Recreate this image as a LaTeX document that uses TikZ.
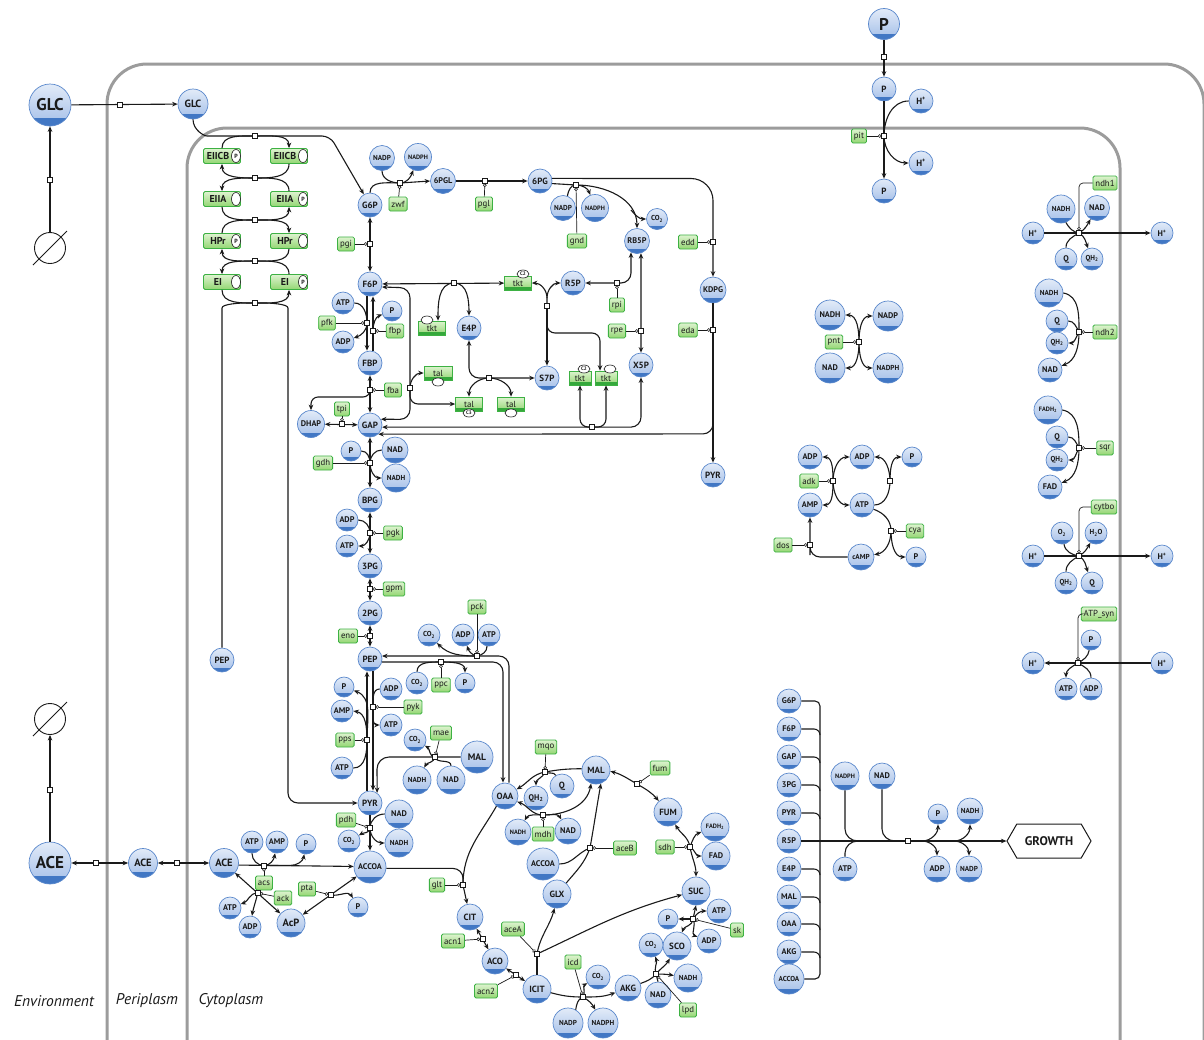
\documentclass[tikz,border=0pt]{standalone}
\usepackage{fontspec}
\setmainfont{PT Sans}
\usetikzlibrary{arrows.meta,shapes.geometric,shapes.symbols,calc}
\definecolor{metA}{HTML}{E2EBF8}
\definecolor{metB}{HTML}{A3BEE8}
\definecolor{metD}{HTML}{5A88CC}
\definecolor{metBand}{HTML}{4177C4}
\definecolor{enzA}{HTML}{DDF3CF}
\definecolor{enzB}{HTML}{93D672}
\definecolor{enzD}{HTML}{3DB143}
\definecolor{enzBand}{HTML}{35A83B}
\definecolor{compG}{HTML}{9C9C9C}
\definecolor{ink}{HTML}{1A1A1A}
\tikzset{
  met/.style={circle, draw=metD, line width=0.7pt, inner sep=0pt, minimum size=#1,
    top color=metA, bottom color=metB, text=ink,
    font=\fontsize{9}{9}\selectfont\bfseries,
    path picture={\fill[metBand] (path picture bounding box.south west) rectangle
      ($(path picture bounding box.south east)!0.18!(path picture bounding box.north east)$);}},
  met/.default=24pt,
  t9/.style={font=\fontsize{10.5}{10.5}\selectfont\bfseries},
  t8/.style={font=\fontsize{9.5}{9.5}\selectfont\bfseries},
  t7/.style={font=\fontsize{8.2}{8.2}\selectfont\bfseries},
  t6/.style={font=\fontsize{7.2}{7.2}\selectfont\bfseries},
  t5/.style={font=\fontsize{6.3}{6.3}\selectfont\bfseries},
  big/.style={font=\fontsize{17}{17}\selectfont\bfseries},
  enz/.style={rectangle, rounded corners=1.5pt, draw=enzD, line width=0.8pt,
    top color=enzA, bottom color=enzB, inner xsep=2.5pt, inner ysep=0pt,
    minimum height=14pt, text=ink, font=\fontsize{8.8}{8.8}\selectfont},
  tkb/.style={rectangle, draw=enzD, line width=0.6pt, top color=enzA, bottom color=enzB,
    minimum width=#1, minimum height=14pt, inner sep=0pt, text=ink,
    font=\fontsize{8.8}{8.8}\selectfont,
    path picture={\fill[enzBand] (path picture bounding box.south west) rectangle
      ($(path picture bounding box.south east)!0.24!(path picture bounding box.north east)$);}},
  tkb/.default=26pt,
  ptsb/.style={rectangle, rounded corners=1.5pt, draw=enzD, line width=0.8pt,
    top color=enzA, bottom color=enzB, minimum width=37pt, minimum height=15pt, inner sep=0pt},
  ovl/.style={ellipse, draw=ink, line width=0.6pt, fill=white, inner sep=0pt,
    minimum width=#1, minimum height=8pt, font=\fontsize{5}{5}\selectfont\bfseries, text=ink},
  ovl/.default=12pt,
  rx/.style={draw=ink, line width=1.1pt},
  ar/.style={-{Stealth[length=5.5pt,width=4.6pt]}},
  br/.style={{Stealth[length=5.5pt,width=4.6pt]}-{Stealth[length=5.5pt,width=4.6pt]}},
  cat/.style={draw=ink, line width=0.7pt, -{Circle[length=3.6pt,width=3.6pt,fill=white,line width=0.6pt]}, shorten >=2.4pt},
  sq/.style={rectangle, draw=ink, fill=white, minimum size=5pt, inner sep=0pt, line width=0.6pt},
  comp/.style={draw=compG, line width=3pt, rounded corners=40pt},
  lab/.style={font=\fontsize{15.5}{15.5}\selectfont\itshape, text=ink},
}
\newcommand\ptsbox[5]{%
  \node[ptsb] (#1) at (#2,#3) {};
  \node[font=\fontsize{10}{10}\selectfont\bfseries, text=ink] (#1t) at ([xshift=-4pt]#1.center) {#4};
  \node[ovl=9pt, minimum height=13pt, font=\fontsize{6}{6}\selectfont\bfseries] (#1o) at ([xshift=14pt]#1.center) {#5};}
\begin{document}
\begin{tikzpicture}[x=1pt,y=-1pt]
\useasboundingbox (0,0) rectangle (1204,1039);
\fill[white] (0,0) rectangle (1204,1039);
% ---------------- compartments
\draw[comp] (107,1075) -- (107,64) -- (1204,64) -- (1204,1075);
\draw[comp] (187,1075) -- (187,128) -- (1120,128) -- (1120,1075);
\node[lab] (labE) at (54,1001) {Environment};
\node[lab] (labP) at (147,1001) {Periplasm};
\node[lab] (labC) at (231,1001) {Cytoplasm};

% ---------------- null sets
\node[circle, draw=ink, line width=0.9pt, minimum size=31pt, inner sep=0pt] (nullG) at (50,248) {};
\draw[line width=0.9pt, ink] ($(nullG)+(-17,17)$) -- ($(nullG)+(17,-17)$);
\node[circle, draw=ink, line width=0.9pt, minimum size=31pt, inner sep=0pt] (nullA) at (50,719) {};
\draw[line width=0.9pt, ink] ($(nullA)+(-17,17)$) -- ($(nullA)+(17,-17)$);

% ---------------- metabolites: transport
\node[met=42pt,big] (GLCe) at (50,105) {GLC};
\node[met=30pt,t9] (GLCp) at (193,104) {GLC};
\node[met=42pt,big] (ACEe) at (50,863) {ACE};
\node[met=29pt,t9] (ACEp) at (143,863) {ACE};
\node[met=29pt,t9] (ACEc) at (224,863) {ACE};
\node[met=31pt,big] (Pe) at (884,24) {P};
\node[met=24pt] (Pp) at (884,89) {P};
\node[met=24pt] (Hp1) at (921,101) {H\textsuperscript{+}};
\node[met=24pt] (Hc1) at (921,163) {H\textsuperscript{+}};
\node[met=24pt] (Pc) at (884,191) {P};

% ---------------- PTS
\ptsbox{EIICBl}{222}{156}{EIICB}{P}
\ptsbox{EIICBr}{289}{156}{EIICB}{}
\ptsbox{EIIAl}{222}{199}{EIIA}{}
\ptsbox{EIIAr}{289}{199}{EIIA}{P}
\ptsbox{HPrl}{222}{241}{HPr}{P}
\ptsbox{HPrr}{289}{241}{HPr}{}
\ptsbox{EIl}{222}{282}{EI}{}
\ptsbox{EIr}{289}{282}{EI}{P}

% ---------------- glycolysis
\node[met] (G6P) at (370,205) {G6P};
\node[met] (F6P) at (370,284) {F6P};
\node[met] (FBP) at (370,363) {FBP};
\node[met] (GAP) at (370,425) {GAP};
\node[met=27pt,t7] (DHAP) at (311,424) {DHAP};
\node[met] (BPG) at (370,500) {BPG};
\node[met] (P3G) at (370,566) {3PG};
\node[met] (P2G) at (370,613) {2PG};
\node[met] (PEP) at (370,659) {PEP};
\node[met] (PEPb) at (222,660) {PEP};
\node[met] (PYR) at (370,803) {PYR};
\node[met=32pt,t7] (ACCOA) at (370,867) {ACCOA};

% ---------------- PPP
\node[met=25pt,t6] (NADPa) at (382,158) {NADP};
\node[met=27pt,t5] (NADPHa) at (418,157) {NADPH};
\node[met=25pt,t7] (PGL) at (443,181) {6PGL};
\node[met] (PG6) at (540,181) {6PG};
\node[met=25pt,t6] (NADPb) at (563,208) {NADP};
\node[met=27pt,t5] (NADPHb) at (595,208) {NADPH};
\node[met=21pt,t6] (CO2a) at (657,219) {CO\textsubscript{2}};
\node[met=25pt,t7] (RB5P) at (637,241) {RB5P};
\node[met=26pt,t7] (KDPG) at (713,290) {KDPG};
\node[met] (R5P) at (573,283) {R5P};
\node[met] (E4P) at (469,328) {E4P};
\node[met] (S7P) at (547,378) {S7P};
\node[met] (X5P) at (641,365) {X5P};
\node[met] (PYRb) at (713,475) {PYR};

\node[met=22pt,t7] (ATPa) at (343,303) {ATP};
\node[met=22pt,t7] (ADPa) at (343,342) {ADP};
\node[met=20pt,t7] (Pa) at (392,311) {P};
\node[met=20pt,t7] (Pb) at (351,451) {P};
\node[met=26pt,t7] (NADa) at (395,450) {NAD};
\node[met=28pt,t6] (NADHa) at (396,478) {NADH};
\node[met=22pt,t7] (ADPb) at (347,520) {ADP};
\node[met=22pt,t7] (ATPb) at (347,546) {ATP};

\node[met=22pt,t6] (CO2b) at (429,635) {CO\textsubscript{2}};
\node[met=22pt,t7] (ADPc) at (463,635) {ADP};
\node[met=22pt,t7] (ATPc) at (489,635) {ATP};
\node[met=22pt,t6] (CO2c) at (417,683) {CO\textsubscript{2}};
\node[met=20pt,t7] (Pc2) at (465,683) {P};
\node[met=20pt,t7] (Pd) at (344,687) {P};
\node[met=22pt,t7] (ADPd) at (391,689) {ADP};
\node[met=22pt,t7] (AMPa) at (342,711) {AMP};
\node[met=22pt,t7] (ATPd) at (391,725) {ATP};
\node[met=22pt,t7] (ATPe) at (342,768) {ATP};
\node[met=22pt,t6] (CO2d) at (415,740) {CO\textsubscript{2}};
\node[met=28pt,t6] (NADHb) at (417,780) {NADH};
\node[met=28pt,t7] (NADb) at (451,780) {NAD};
\node[met=32pt,t8] (MALa) at (477,757) {MAL};
\node[met=28pt,t7] (NADc) at (399,814) {NAD};
\node[met=22pt,t6] (CO2e) at (349,841) {CO\textsubscript{2}};
\node[met=28pt,t6] (NADHc) at (399,843) {NADH};

% ---------------- acetate
\node[met=22pt,t7] (ATPf) at (252,842) {ATP};
\node[met=22pt,t7] (AMPb) at (277,842) {AMP};
\node[met=20pt,t7] (Pe2) at (306,844) {P};
\node[met=22pt,t7] (ATPg) at (230,908) {ATP};
\node[met=22pt,t7] (ADPe) at (250,927) {ADP};
\node[met=28pt,t9] (AcP) at (291,923) {AcP};
\node[met=20pt,t7] (Pf) at (358,907) {P};

% ---------------- TCA
\node[met=26pt] (OAA) at (505,796) {OAA};
\node[met=26pt] (CIT) at (470,917) {CIT};
\node[met=26pt] (ACO) at (495,961) {ACO};
\node[met=28pt] (ICIT) at (537,989) {ICIT};
\node[met=26pt] (AKG) at (628,988) {AKG};
\node[met=28pt] (SCO) at (677,946) {SCO};
\node[met=28pt] (SUC) at (696,891) {SUC};
\node[met=28pt] (FUM) at (668,812) {FUM};
\node[met=28pt] (MALb) at (596,770) {MAL};
\node[met=28pt] (GLX) at (557,894) {GLX};
\node[met=32pt,t7] (ACCOAb) at (543,864) {ACCOA};
\node[met=24pt,t7] (QH2a) at (536,798) {QH\textsubscript{2}};
\node[met=24pt] (Qa) at (562,786) {Q};
\node[met=26pt,t5] (NADHd) at (518,832) {NADH};
\node[met=26pt,t7] (NADd) at (568,831) {NAD};
\node[met=30pt,t6] (NADPc) at (568,1023) {NADP};
\node[met=30pt,t6] (NADPHc) at (603,1023) {NADPH};
\node[met=24pt,t6] (CO2f) at (598,977) {CO\textsubscript{2}};
\node[met=26pt,t7] (NADe) at (658,995) {NAD};
\node[met=28pt,t6] (NADHe) at (688,978) {NADH};
\node[met=24pt,t6] (CO2g) at (651,945) {CO\textsubscript{2}};
\node[met=20pt,t7] (Pg) at (668,919) {P};
\node[met=24pt,t7] (ATPh) at (719,911) {ATP};
\node[met=24pt,t7] (ADPf) at (709,941) {ADP};
\node[met=28pt,t5] (FADH2) at (715,827) {FADH\textsubscript{2}};
\node[met=28pt,t7] (FAD) at (716,856) {FAD};

% ---------------- respiration
\node[met=28pt,t6] (NADHf) at (1061,209) {NADH};
\node[met=25pt,t7] (NADf) at (1097,208) {NAD};
\node[met=22pt,t7] (Hl1) at (1033,233) {H\textsuperscript{+}};
\node[met=22pt,t7] (Hr1) at (1162,233) {H\textsuperscript{+}};
\node[met=22pt,t7] (Qb) at (1066,259) {Q};
\node[met=22pt,t6] (QH2b) at (1092,259) {QH\textsubscript{2}};
\node[met=28pt,t6] (NADHg) at (1049,293) {NADH};
\node[met=22pt,t7] (Qc) at (1057,321) {Q};
\node[met=22pt,t6] (QH2c) at (1057,343) {QH\textsubscript{2}};
\node[met=24pt,t7] (NADg) at (1050,370) {NAD};
\node[met=28pt,t5] (FADH2b) at (1048,410) {FADH\textsubscript{2}};
\node[met=22pt,t7] (Qd) at (1057,437) {Q};
\node[met=22pt,t6] (QH2d) at (1057,460) {QH\textsubscript{2}};
\node[met=24pt,t7] (FADb) at (1050,487) {FAD};
\node[met=22pt,t6] (O2) at (1062,533) {O\textsubscript{2}};
\node[met=22pt,t6] (H2O) at (1096,533) {H\textsubscript{2}O};
\node[met=22pt,t7] (Hl2) at (1033,556) {H\textsuperscript{+}};
\node[met=22pt,t7] (Hr2) at (1162,556) {H\textsuperscript{+}};
\node[met=22pt,t6] (QH2e) at (1066,583) {QH\textsubscript{2}};
\node[met=22pt,t7] (Qe) at (1092,583) {Q};
\node[met=20pt,t7] (Pj) at (1091,640) {P};
\node[met=22pt,t7] (Hl3) at (1033,663) {H\textsuperscript{+}};
\node[met=22pt,t7] (Hr3) at (1162,663) {H\textsuperscript{+}};
\node[met=22pt,t7] (ATPj) at (1066,689) {ATP};
\node[met=22pt,t7] (ADPj) at (1091,689) {ADP};

% ---------------- pnt, adk
\node[met=30pt,t7] (NADHh) at (830,315) {NADH};
\node[met=30pt,t7] (NADPh) at (888,316) {NADP};
\node[met=30pt,t7] (NADh) at (830,368) {NAD};
\node[met=30pt,t6] (NADPHh) at (888,368) {NADPH};
\node[met=24pt,t7] (ADPk) at (810,457) {ADP};
\node[met=24pt,t7] (ADPm) at (862,457) {ADP};
\node[met=20pt,t7] (Pk) at (912,457) {P};
\node[met=24pt,t7] (AMPk) at (810,505) {AMP};
\node[met=24pt,t7] (ATPk) at (862,505) {ATP};
\node[met=26pt,t6] (cAMP) at (861,557) {cAMP};
\node[met=20pt,t7] (Pm) at (916,557) {P};

% ---------------- growth
\foreach \n/\l/\y in {gG6P/G6P/701, gF6P/F6P/729, gGAP/GAP/757, g3PG/3PG/785, gPYR/PYR/813, gR5P/R5P/841, gE4P/E4P/869, gMAL/MAL/897, gOAA/OAA/924, gAKG/AKG/952}
  \node[met=24pt,t7] (\n) at (789,\y) {\l};
\node[met=30pt,t6] (gACCOA) at (789,979) {ACCOA};
\node[met=28pt,t5] (NADPHg) at (845,776) {NADPH};
\node[met=26pt,t7] (NADgr) at (882,776) {NAD};
\node[met=24pt,t7] (ATPgr) at (845,869) {ATP};
\node[met=20pt,t7] (Pgr) at (938,814) {P};
\node[met=26pt,t7] (ADPgr) at (937,869) {ADP};
\node[met=26pt,t6] (NADHgr) at (970,811) {NADH};
\node[met=26pt,t6] (NADPgr) at (969,869) {NADP};
\node[draw=ink, line width=1pt, fill=white, signal, signal to=west and east, signal pointer angle=120,
  minimum width=84pt, minimum height=34pt, inner sep=0pt, text=ink,
  font=\fontsize{12.5}{12.5}\selectfont\bfseries] (GROWTH) at (1049,841) {GROWTH};

% ---------------- tkt / tal boxes
\node[tkb=27pt] (tktA) at (518,283) {tkt};
\node[ovl] (oA) at (523,274) {C2};
\node[tkb=27pt] (tktB) at (432,328) {tkt};
\node[ovl] (oB) at (427,320) {};
\node[tkb=28pt] (talA) at (438,373) {tal};
\node[ovl] (oC) at (438,382) {};
\node[tkb=27pt] (talB) at (469,404) {tal};
\node[ovl] (oD) at (469,413) {C3};
\node[tkb=27pt] (talC) at (511,404) {tal};
\node[ovl] (oE) at (511,413) {};
\node[tkb=22pt] (tktD) at (580,378) {tkt};
\node[ovl] (oF) at (584,369) {C2};
\node[tkb=22pt] (tktE) at (606,378) {tkt};
\node[ovl] (oG) at (610,369) {};

% ---------------- enzymes
\node[enz] (pgi) at (346,244) {pgi};
\node[enz] (zwf) at (398,204) {zwf};
\node[enz] (pgl) at (484,204) {pgl};
\node[enz] (gnd) at (577,241) {gnd};
\node[enz] (edd) at (688,242) {edd};
\node[enz] (eda) at (688,330) {eda};
\node[enz] (rpi) at (617,305) {rpi};
\node[enz] (rpe) at (617,331) {rpe};
\node[enz] (pfk) at (327,323) {pfk};
\node[enz] (fbp) at (395,331) {fbp};
\node[enz] (fba) at (393,390) {fba};
\node[enz] (tpi) at (342,409) {tpi};
\node[enz] (gdh) at (323,463) {gdh};
\node[enz] (pgk) at (393,533) {pgk};
\node[enz] (gpm) at (394,589) {gpm};
\node[enz] (eno) at (348,636) {eno};
\node[enz] (pck) at (477,607) {pck};
\node[enz] (ppc) at (441,685) {ppc};
\node[enz] (pyk) at (413,707) {pyk};
\node[enz] (pps) at (345,740) {pps};
\node[enz] (mae) at (441,733) {mae};
\node[enz] (pdh) at (346,820) {pdh};
\node[enz] (glt) at (437,885) {glt};
\node[enz] (acs) at (264,883) {acs};
\node[enz] (ack) at (283,898) {ack};
\node[enz] (pta) at (307,889) {pta};
\node[enz] (acnA) at (453,941) {acn1};
\node[enz] (acnB) at (486,991) {acn2};
\node[enz] (aceA) at (513,929) {aceA};
\node[enz] (icd) at (573,962) {icd};
\node[enz] (lpd) at (688,1010) {lpd};
\node[enz] (sk) at (737,930) {sk};
\node[enz] (sdh) at (665,847) {sdh};
\node[enz] (aceB) at (625,848) {aceB};
\node[enz] (fum) at (660,768) {fum};
\node[enz] (mqo) at (546,747) {mqo};
\node[enz] (mdh) at (543,834) {mdh};
\node[enz] (pit) at (859,136) {pit};
\node[enz] (ndhA) at (1105,183) {ndh1};
\node[enz] (ndhB) at (1105,332) {ndh2};
\node[enz] (sqr) at (1105,448) {sqr};
\node[enz] (cytbo) at (1104,507) {cytbo};
\node[enz] (atpsyn) at (1099,614) {ATP\_syn};
\node[enz] (pnt) at (834,342) {pnt};
\node[enz] (adk) at (809,481) {adk};
\node[enz] (cya) at (915,531) {cya};
\node[enz] (dos) at (783,545) {dos};

% ---------------- reaction centres
\coordinate (s1) at (120,105);   \coordinate (s2) at (50,180);
\coordinate (sP1) at (255,136);  \coordinate (sP2) at (255,178);
\coordinate (sP3) at (255,220);  \coordinate (sP4) at (255,261);
\coordinate (sP5) at (255,303);
\coordinate (sPGI) at (370,244); \coordinate (sZWF) at (400,183);
\coordinate (sPGL) at (485,181); \coordinate (sGND) at (576,185);
\coordinate (sEDD) at (713,242); \coordinate (sEDA) at (713,330);
\coordinate (sRPI) at (617,283); \coordinate (sRPE) at (641,331);
\coordinate (sTK1) at (454,283); \coordinate (sTK2) at (547,306);
\coordinate (jTK2) at (547,298); \coordinate (sTK3) at (592,427);
\coordinate (sTAL1) at (410,388); \coordinate (sTAL2) at (489,378);
\coordinate (sPFK) at (367,323); \coordinate (sFBP) at (373,331);
\coordinate (sFBA) at (370,390); \coordinate (sTPI) at (342,424);
\coordinate (sGDH) at (370,463); \coordinate (sPGK) at (370,533);
\coordinate (sGPM) at (370,589); \coordinate (sENO) at (370,636);
\coordinate (sPCK) at (477,656); \coordinate (sPPC) at (441,662);
\coordinate (sPYK) at (373,707); \coordinate (sPPS) at (367,740);
\coordinate (sMAE) at (435,757); \coordinate (sPDH) at (370,828);
\coordinate (sGLT) at (463,885);
\coordinate (sACN1) at ($(CIT)!0.5!(ACO)$);
\coordinate (sACN2) at ($(ACO)!0.5!(ICIT)$);
\coordinate (sICD) at (583,997); \coordinate (sACEA) at (537,954);
\coordinate (sLPD) at (656,974); \coordinate (sSK) at (693,919);
\coordinate (sSDH) at (690,847); \coordinate (sFUM) at (637,784);
\coordinate (sMQO) at (545,772); \coordinate (sMDH) at (543,815);
\coordinate (sACEB) at (590,848);
\coordinate (sACEx) at (50,790); \coordinate (sACE1) at (96,863);
\coordinate (sACE2) at (177,863); \coordinate (sACS) at (264,865.5);
\coordinate (sACK) at ($(ACEc)!0.5!(AcP)$);
\coordinate (sPTA) at ($(AcP)!0.5!(ACCOA)$);
\coordinate (sPt) at (884,57);   \coordinate (sPIT) at (884,136);
\coordinate (sNDH1) at (1079,233); \coordinate (sNDH2) at (1079,332);
\coordinate (sSQR) at (1079,448);  \coordinate (sCYT) at (1079,556);
\coordinate (sATS) at (1078,663);
\coordinate (sPNT) at (859,342); \coordinate (sADK) at (833,481);
\coordinate (sATPx) at (890,481); \coordinate (sCYA) at (891,531);
\coordinate (sDOS) at (810,545);
\coordinate (sGR) at (908,841);
\coordinate (jCO2) at (631,210);
\coordinate (jEDA) at (713,418);
\coordinate (jG1) at (922,841); \coordinate (jG2) at (954,841);
\coordinate (jG3) at (858,841); \coordinate (jG4) at (895,841);

% ---------------- transport
\draw[rx,ar] (GLCe) -- (GLCp);
\draw[rx,ar] (nullG) -- (GLCe);
\draw[rx,ar] (ACEe) -- (nullA);
\draw[rx,br] (ACEe) -- (ACEp);
\draw[rx,br] (ACEp) -- (ACEc);
\draw[rx,ar] (Pe) -- (Pp);
\draw[rx,ar] (Pp) -- (Pc);
\draw[rx] (Hp1.west) to[out=180,in=90] (sPIT);
\draw[rx,ar] (sPIT) to[out=-90,in=180] (Hc1.west);
\draw[cat] (pit) -- (sPIT);

% ---------------- PTS
\draw[rx,ar] (EIICBl.north) to[out=90,in=180] (sP1) to[out=0,in=90] (EIICBr.north);
\draw[rx,ar,rounded corners=8pt] (GLCp.south) to[out=-90,in=180] (215,136) -- (330,136) -- (G6P);
\draw[rx,ar] (EIICBr.south) to[out=-90,in=0] (sP2) to[out=180,in=-90] (EIICBl.south);
\draw[rx,ar] (EIIAr.north) to[out=90,in=0] (sP2) to[out=180,in=90] (EIIAl.north);
\draw[rx,ar] (EIIAl.south) to[out=-90,in=180] (sP3) to[out=0,in=-90] (EIIAr.south);
\draw[rx,ar] (HPrl.north) to[out=90,in=180] (sP3) to[out=0,in=90] (HPrr.north);
\draw[rx,ar] (HPrr.south) to[out=-90,in=0] (sP4) to[out=180,in=-90] (HPrl.south);
\draw[rx,ar] (EIr.north) to[out=90,in=0] (sP4) to[out=180,in=90] (EIl.north);
\draw[rx,ar] (EIl.south) to[out=-90,in=180] (sP5) to[out=0,in=-90] (EIr.south);
\draw[rx,ar,rounded corners=10pt] (PEPb.north) -- (222,318) to[out=90,in=180] (sP5) to[out=0,in=90] (288,318) -- (288,803) -- (PYR.west);

% ---------------- upper glycolysis
\draw[rx,br] (G6P) -- (F6P);
\draw[cat] (pgi) -- (sPGI);
\draw[rx,ar] ([xshift=-3pt]F6P.south) -- ([xshift=-3pt]FBP.north);
\draw[rx,ar] ([xshift=3pt]FBP.north) -- ([xshift=3pt]F6P.south);
\draw[rx] (ATPa.east) to[out=0,in=90] (sPFK);
\draw[rx,ar] (sPFK) to[out=-90,in=20] (ADPa.20);
\draw[rx,ar] (sFBP) to[out=90,in=200] (Pa.200);
\draw[cat] (pfk) -- (sPFK);
\draw[cat] (fbp) -- (sFBP);
\draw[rx,br] (FBP) -- (GAP);
\draw[rx,ar,rounded corners=7pt] (sFBA) |- (311,397) -- (DHAP.north);
\draw[cat] (fba) -- (sFBA);
\draw[rx,br] (DHAP) -- (GAP);
\draw[cat] (tpi) -- (sTPI);
\draw[rx,br] (GAP) -- (BPG);
\draw[rx] (Pb.east) to[out=0,in=90] (sGDH);
\draw[rx] (NADa.west) to[out=180,in=90] (sGDH);
\draw[rx,ar] (sGDH) to[out=-90,in=180] (NADHa.west);
\draw[cat] (gdh) -- (sGDH);
\draw[rx,br] (BPG) -- (P3G);
\draw[rx] (ADPb.east) to[out=0,in=90] (sPGK);
\draw[rx,ar] (sPGK) to[out=-90,in=0] (ATPb.east);
\draw[cat] (pgk) -- (sPGK);
\draw[rx,br] (P3G) -- (P2G);
\draw[cat] (gpm) -- (sGPM);
\draw[rx,br] (P2G) -- (PEP);
\draw[cat] (eno) -- (sENO);

% ---------------- oxidative PPP / ED
\draw[rx,ar] (G6P.north) to[out=90,in=180] (sZWF) -- (PGL.west);
\draw[rx] (NADPa.south) to[out=-90,in=180] (sZWF);
\draw[rx,ar] (sZWF) to[out=0,in=-110] (NADPHa.-110);
\draw[cat] (zwf) -- (sZWF);
\draw[rx,ar] (PGL) -- (PG6);
\draw[cat] (pgl) -- (sPGL);
\draw[rx,ar] (PG6.-12) -- (sGND) to[out=0,in=90] (RB5P.north);
\draw[rx,ar] (jCO2) to[out=-50,in=180] (CO2a.west);
\draw[rx] (NADPb.70) to[out=80,in=180] (sGND);
\draw[rx,ar] (sGND) to[out=0,in=110] (NADPHb.110);
\draw[cat] (gnd) -- (sGND);
\draw[rx,ar,rounded corners=22pt] (PG6.12) -- (713,178.5) -- (KDPG.north);
\draw[cat] (edd) -- (sEDD);
\draw[rx,ar] (KDPG.south) -- (PYRb.north);
\draw[rx,ar,rounded corners=10pt] (jEDA) -- (713,433.9) -- (GAP.-48);
\draw[cat] (eda) -- (sEDA);

% ---------------- non-oxidative PPP
\draw[rx,br,rounded corners=10pt] (RB5P.-118) -- (631,283) -- (R5P.east);
\draw[cat] (rpi) -- (sRPI);
\draw[rx,br] (RB5P.-72) -- (X5P.north);
\draw[cat] (rpe) -- (sRPE);
\draw[rx,br] (F6P) -- (tktA);
\draw[rx,ar] (sTK1) to[out=180,in=90] ([xshift=6pt]tktB.north);
\draw[rx,ar] (sTK1) to[out=0,in=90] (E4P.north);
\draw[rx,ar] (sTK2) -- (jTK2) to[out=90,in=0] (tktA.east);
\draw[rx,ar] (jTK2) to[out=90,in=180] (R5P.west);
\draw[rx,ar] (sTK2) -- (S7P.north);
\draw[rx,ar,rounded corners=8pt] (sTK2) -- (547,333) -- (600,333) -- ([xshift=-6pt]tktE.north);
\draw[rx,br,rounded corners=10pt] (E4P.south) -- (469,378) -- (S7P.west);
\draw[rx,ar] (sTAL2) to[out=180,in=90] (talB.north);
\draw[rx,ar] (sTAL2) to[out=0,in=90] (talC.north);
\draw[rx,br,rounded corners=10pt] (F6P.-14) -- (410,287.9) -- (410,419.4) -- (GAP.28);
\draw[rx,ar] (sTAL1) to[out=90,in=180] (talA.west);
\draw[rx,ar,rounded corners=8pt] (sTAL1) -- (410,404) -- (talB.west);
\draw[rx,br,rounded corners=10pt] (GAP.-10) -- (641,427.1) -- (X5P.south);
\draw[rx,ar,rounded corners=8pt] (sTK3) -- (580,427) -- (tktD.south);
\draw[rx,ar,rounded corners=8pt] (sTK3) -- (606,427) -- (tktE.south);

% ---------------- PEP / PYR node
\draw[rx,ar,rounded corners=10pt] ([xshift=4pt]OAA.north) -- (509,656) -- (PEP.14);
\draw[rx,ar] (sPCK) to[out=180,in=-45] (CO2b.-45);
\draw[rx,ar] (sPCK) to[out=170,in=-70] (ADPc.-70);
\draw[rx] (ATPc.-100) to[out=-90,in=10] (sPCK);
\draw[cat] (pck) -- (sPCK);
\draw[rx,ar,rounded corners=10pt] (PEP.-14) -- (503,662) -- ([xshift=-2pt]OAA.north);
\draw[rx] (CO2c.north) to[out=90,in=180] (sPPC);
\draw[rx,ar] (sPPC) to[out=0,in=90] (Pc2.north);
\draw[cat] (ppc) -- (sPPC);
\draw[rx,ar] ([xshift=3pt]PEP.south) -- ([xshift=3pt]PYR.north);
\draw[rx,ar] ([xshift=-3pt]PYR.north) -- ([xshift=-3pt]PEP.south);
\draw[rx] (ADPd.west) to[out=180,in=90] (sPYK);
\draw[rx,ar] (sPYK) to[out=-90,in=180] (ATPd.west);
\draw[cat] (pyk) -- (sPYK);
\draw[rx] (ATPe.east) to[out=0,in=-90] (sPPS);
\draw[rx,ar] (sPPS) to[out=90,in=-20] (Pd.-20);
\draw[rx,ar] (sPPS) to[out=90,in=-10] (AMPa.east);
\draw[cat] (pps) -- (sPPS);
\draw[rx,ar,rounded corners=12pt] (MALa.west) -- (377,757) -- (PYR.55);
\draw[rx,ar] (sMAE) to[out=180,in=-30] (CO2d.-30);
\draw[rx,ar] (sMAE) to[out=-100,in=60] (NADHb.60);
\draw[rx] (NADb.north) to[out=90,in=-80] (sMAE);
\draw[cat] (mae) -- (sMAE);
\draw[rx,ar] (PYR) -- (ACCOA);
\draw[rx] (NADc.west) to[out=180,in=90] (sPDH);
\draw[rx,ar] (sPDH) to[out=-90,in=30] (CO2e.30);
\draw[rx,ar] (sPDH) to[out=-90,in=180] (NADHc.west);
\draw[cat] (pdh) -- (sPDH);

% ---------------- acetate
\draw[rx,ar] (ACEc.-8) -- (ACCOA.178);
\draw[rx] (ATPf.south) to[out=-90,in=180] (sACS);
\draw[rx,ar] (sACS) to[out=0,in=-100] (AMPb.-100);
\draw[rx,ar] (sACS) -- (290,865.5) to[out=0,in=-100] (Pe2.-100);
\draw[cat] (acs) -- (sACS);
\draw[rx,br] (ACEc) -- (AcP);
\draw[rx,ar] (sACK) to[out=180,in=20] (ATPg.20);
\draw[rx,ar] (sACK) to[out=-100,in=80] (ADPe.80);
\draw[cat] (ack) -- (sACK);
\draw[rx,br] (AcP) -- (ACCOA);
\draw[rx,ar] (sPTA) to[out=-10,in=120] (Pf.120);
\draw[cat] (pta) -- (sPTA);

% ---------------- TCA cycle
\draw[rx,rounded corners=10pt] (ACCOA.-5) -- (463,868.4) -- (sGLT);
\draw[rx] (OAA.-130) to[out=-120,in=90] (sGLT);
\draw[rx,ar] (sGLT) -- (CIT);
\draw[cat] (glt) -- (sGLT);
\draw[rx,br] (CIT) -- (ACO);
\draw[cat] (acnA) -- (sACN1);
\draw[rx,br] (ACO) -- (ICIT);
\draw[cat] (acnB) -- (sACN2);
\draw[rx,ar] (ICIT.-15) to[out=-15,in=180] (sICD) to[out=0,in=200] (AKG.200);
\draw[rx] (NADPc.60) to[out=80,in=200] (sICD);
\draw[rx,ar] (sICD) to[out=-30,in=120] (NADPHc.120);
\draw[rx,ar] (sICD) to[out=60,in=-150] (CO2f.-150);
\draw[cat] (icd) -- (sICD);
\draw[rx] (ICIT.north) -- (sACEA);
\draw[rx,ar] (sACEA) to[out=80,in=-105] (GLX.-100);
\draw[rx,ar] (sACEA) to[out=25,in=195] (SUC.195);
\draw[cat] (aceA) -- (sACEA);
\draw[rx,ar] (AKG.20) to[out=20,in=-130] (sLPD) to[out=50,in=-120] (SCO.-120);
\draw[rx] (NADe.north) -- (sLPD);
\draw[rx,ar] (sLPD) to[out=0,in=170] (NADHe.170);
\draw[rx,ar] (sLPD) to[out=110,in=-70] (CO2g.-70);
\draw[cat] (lpd) -- (sLPD);
\draw[rx,br] (SCO.70) to[out=70,in=-90] (sSK) -- (SUC.south);
\draw[rx,ar] (sSK) -- (Pg.east);
\draw[rx,ar] (sSK) to[out=60,in=180] (ATPh.west);
\draw[rx,ar] (sSK) to[out=-60,in=160] (ADPf.160);
\draw[cat] (sk) -- (sSK);
\draw[rx,br] (FUM.-60) to[out=-60,in=100] (sSDH) to[out=-80,in=90] (SUC.north);
\draw[rx,ar] (sSDH) to[out=70,in=200] (FADH2.200);
\draw[rx,ar] (sSDH) to[out=-30,in=180] (FAD.west);
\draw[cat] (sdh) -- (sSDH);
\draw[rx,br] (MALb.-5) to[out=-15,in=150] (sFUM) to[out=-30,in=130] (FUM.130);
\draw[cat] (fum) -- (sFUM);
\draw[rx,ar] (MALb.175) to[out=180,in=10] (sMQO) to[out=190,in=30] (OAA.30);
\draw[rx] (Qa.120) to[out=120,in=-30] (sMQO);
\draw[rx,ar] (sMQO) to[out=-110,in=90] (QH2a.north);
\draw[cat] (mqo) -- (sMQO);
\draw[rx,br] (OAA.-25) to[out=-20,in=180] (sMDH) to[out=0,in=-100] (MALb.-110);
\draw[rx,ar] (sMDH) to[out=180,in=60] (NADHd.60);
\draw[rx,ar] (sMDH) to[out=0,in=120] (NADd.120);
\draw[cat] (mdh) -- (sMDH);
\draw[rx,ar] (sACEB) to[out=80,in=-100] (MALb.-70);
\draw[rx] (ACCOAb.east) to[out=0,in=-160] (sACEB);
\draw[rx] (GLX.50) to[out=50,in=-110] (sACEB);
\draw[cat] (aceB) -- (sACEB);

% ---------------- respiration chain
\draw[rx,ar] (Hl1) -- (Hr1);
\draw[rx] (NADHf.-70) to[out=-60,in=170] (sNDH1);
\draw[rx,ar] (sNDH1) to[out=30,in=-120] (NADf.-120);
\draw[rx] (Qb.north) to[out=90,in=-150] (sNDH1);
\draw[rx,ar] (sNDH1) to[out=-30,in=110] (QH2b.110);
\draw[cat,rounded corners=4pt] (ndhA.west) -| (sNDH1);
\draw[rx,ar] (NADHg.east) to[out=-10,in=90] (sNDH2) to[out=-90,in=20] (NADg.20);
\draw[rx] (Qc.east) to[out=0,in=120] (sNDH2);
\draw[rx,ar] (sNDH2) to[out=-120,in=0] (QH2c.east);
\draw[cat] (ndhB) -- (sNDH2);
\draw[rx,ar] (FADH2b.east) to[out=-10,in=90] (sSQR) to[out=-90,in=20] (FADb.20);
\draw[rx] (Qd.east) to[out=0,in=120] (sSQR);
\draw[rx,ar] (sSQR) to[out=-120,in=0] (QH2d.east);
\draw[cat] (sqr) -- (sSQR);
\draw[rx,ar] (Hl2) -- (Hr2);
\draw[rx] (O2.-80) to[out=-80,in=170] (sCYT);
\draw[rx,ar] (sCYT) to[out=30,in=-120] (H2O.-120);
\draw[rx] (QH2e.north) to[out=90,in=-150] (sCYT);
\draw[rx,ar] (sCYT) to[out=-30,in=110] (Qe.110);
\draw[cat,rounded corners=4pt] (cytbo.west) -| (sCYT);
\draw[rx,ar] (Hr3) -- (Hl3);
\draw[rx] (Pj.-100) to[out=-100,in=30] (sATS);
\draw[rx] (ADPj.north) to[out=90,in=-30] (sATS);
\draw[rx,ar] (sATS) to[out=-150,in=90] (ATPj.north);
\draw[cat,rounded corners=4pt] (atpsyn.west) -| (sATS);

% ---------------- pnt, adk, cya, dos
\draw[rx,br] (NADHh.east) to[out=0,in=90] (sPNT) to[out=-90,in=0] (NADh.east);
\draw[rx,br] (NADPh.west) to[out=180,in=90] (sPNT) to[out=-90,in=180] (NADPHh.west);
\draw[cat] (pnt) -- (sPNT);
\draw[rx,br] (ADPk.east) to[out=0,in=90] (sADK) to[out=-90,in=0] (AMPk.east);
\draw[rx,br] (ADPm.west) to[out=180,in=90] (sADK) to[out=-90,in=180] (ATPk.west);
\draw[cat] (adk) -- (sADK);
\draw[rx,ar] (ATPk.east) to[out=0,in=-90] (sATPx) to[out=90,in=0] (ADPm.east);
\draw[rx,ar] (sATPx) to[out=90,in=180] (Pk.west);
\draw[rx,ar] (ATPk.-20) to[out=-20,in=90] (sCYA) to[out=-90,in=10] (cAMP.10);
\draw[rx,ar] (sCYA) to[out=-90,in=180] (Pm.west);
\draw[cat] (cya) -- (sCYA);
\draw[rx,ar,rounded corners=10pt] (cAMP.west) -| (sDOS) -- (AMPk.south);
\draw[cat] (dos) -- (sDOS);

% ---------------- growth
\draw[rx,rounded corners=5pt] (gG6P.east) -- (820,701) -- (820,979) -- (gACCOA.east);
\foreach \n/\y in {gF6P/729, gGAP/757, g3PG/785, gPYR/813, gE4P/869, gMAL/897, gOAA/924, gAKG/952}
  \draw[rx] (\n.east) -- (814,\y) to[out=0,in=90] (820,{\y+6});
\draw[rx,ar] (gR5P.east) -- (GROWTH.west);
\draw[rx] (NADPHg.south) -- (845,829) to[out=-90,in=180] (jG3);
\draw[rx] (ATPgr.north) -- (845,853) to[out=90,in=180] (jG3);
\draw[rx] (NADgr.south) -- (882,829) to[out=-90,in=180] (jG4);
\draw[rx,ar] (jG1) to[out=0,in=-90] (Pgr.south);
\draw[rx,ar] (jG1) to[out=0,in=90] (ADPgr.north);
\draw[rx,ar] (jG2) to[out=0,in=-90] (NADHgr.south);
\draw[rx,ar] (jG2) to[out=0,in=90] (NADPgr.north);

% ---------------- reaction squares on top
\foreach \c in {s1,s2,sP1,sP2,sP3,sP4,sP5,sPGI,sZWF,sPGL,sGND,sEDD,sEDA,sRPI,sRPE,
  sTK1,sTK2,sTK3,sTAL1,sTAL2,sPFK,sFBP,sFBA,sTPI,sGDH,sPGK,sGPM,sENO,sPCK,sPPC,
  sPYK,sPPS,sMAE,sPDH,sGLT,sACN1,sACN2,sICD,sACEA,sLPD,sSK,sSDH,sFUM,sMQO,sMDH,
  sACEB,sACEx,sACE1,sACE2,sACS,sACK,sPTA,sPt,sPIT,sNDH1,sNDH2,sSQR,sCYT,sATS,
  sPNT,sADK,sATPx,sCYA,sDOS,sGR}
  \node[sq] (q\c) at (\c) {};
\end{tikzpicture}
\end{document}
